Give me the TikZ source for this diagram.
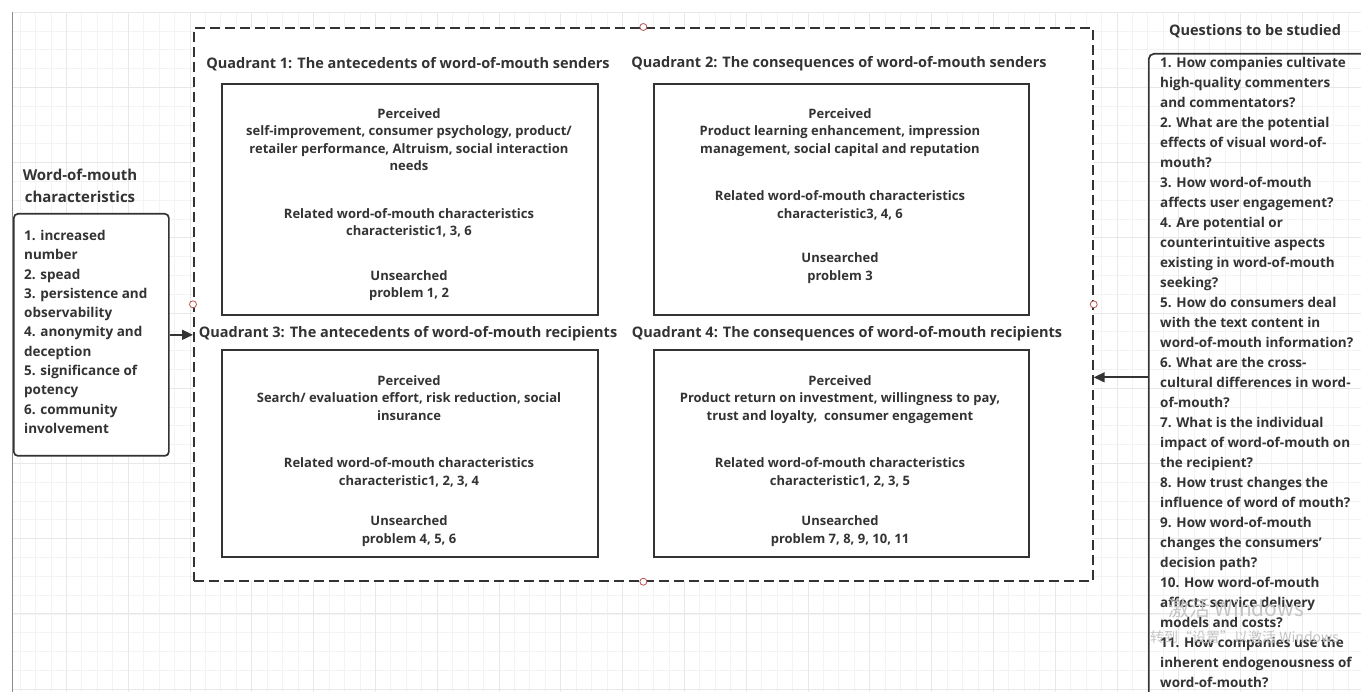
\documentclass[tikz,border=0pt]{standalone}
\usepackage{fontspec}
\setmainfont{Open Sans}
\newfontfamily\cjkf{Noto Sans CJK SC}
\usetikzlibrary{arrows.meta}
\definecolor{ink}{HTML}{333333}
\definecolor{gridminor}{HTML}{F3F3F3}
\definecolor{gridmajor}{HTML}{E8E8E8}
\definecolor{handle}{HTML}{B85450}
\definecolor{wmark}{HTML}{C4C4C4}
\tikzset{
  qbox/.style={draw=ink, line width=1.7pt, fill=white, inner sep=0pt, anchor=north west},
  frame/.style={draw=ink, line width=1.7pt, dash pattern=on 10pt off 5pt, fill=white, inner sep=0pt, anchor=north west},
  body/.style={font=\fontsize{13}{17.5}\selectfont\bfseries, text=ink, align=center, inner sep=0pt, anchor=north},
  qtitle/.style={font=\fontsize{14.5}{16}\selectfont\bfseries, text=ink, inner sep=0pt},
  sidetitle/.style={font=\fontsize{15}{22}\selectfont\bfseries, text=ink, align=center, inner sep=0pt},
  listtext/.style={text=ink, align=left, inner sep=0pt, anchor=north west},
  handle/.style={circle, draw=handle, fill=white, line width=0.8pt, minimum size=7pt, inner sep=0pt},
  arr/.style={draw=ink, line width=1.7pt, -{Triangle[length=11pt,width=10pt]}},
  wm/.style={text=wmark, inner sep=0pt, anchor=west}
}
\begin{document}
\begin{tikzpicture}[x=1pt,y=-1pt]
\useasboundingbox (0,0) rectangle (1361,692);
\clip (0,0) rectangle (1361,692);
% background grid
\foreach \i in {0,...,87} \draw[gridminor, line width=0.8pt] ({20+15.45*\i},12) -- ({20+15.45*\i},692);
\foreach \j in {1,...,36} \draw[gridminor, line width=0.8pt] (12,{12.3+18.8*\j}) -- (1361,{12.3+18.8*\j});
\foreach \i in {3,7,...,87} \draw[gridmajor, line width=0.9pt] ({20+15.45*\i},12) -- ({20+15.45*\i},692);
\foreach \j in {4,8,...,36} \draw[gridmajor, line width=0.9pt] (12,{12.3+18.8*\j}) -- (1361,{12.3+18.8*\j});
\draw[gridmajor, line width=0.8pt] (12,12.3) -- (1361,12.3);
\draw[black!45, line width=0.9pt] (12,12) -- (12,692);

% frame
\node[frame, minimum width=899pt, minimum height=553pt] (frame) at (193,27) {};

% quadrant titles
\node[qtitle] (t1) at (408,64) {Quadrant 1: The antecedents of word-of-mouth senders};
\node[qtitle] (t2) at (839,64) {Quadrant 2: The consequences of word-of-mouth senders};
\node[qtitle] (t3) at (408,334) {Quadrant 3: The antecedents of word-of-mouth recipients};
\node[qtitle] (t4) at (847,334) {Quadrant 4: The consequences of word-of-mouth recipients};

% quadrant boxes
\node[qbox, minimum width=376pt, minimum height=231pt] (q1) at (221,83) {};
\node[qbox, minimum width=375pt, minimum height=231pt] (q2) at (653,83) {};
\node[qbox, minimum width=376pt, minimum height=207pt] (q3) at (221,349) {};
\node[qbox, minimum width=375pt, minimum height=207pt] (q4) at (653,349) {};

\node[body] (b1) at (409,108) {Perceived\\
self-improvement, consumer psychology, product/\\
retailer performance, Altruism, social interaction\\
needs\\[30pt]
Related word-of-mouth characteristics\\
characteristic1, 3, 6\\[27pt]
Unsearched\\
problem 1, 2};

\node[body] (b2) at (840,108) {Perceived\\
Product learning enhancement, impression\\
management, social capital and reputation\\[30pt]
Related word-of-mouth characteristics\\
characteristic3, 4, 6\\[27pt]
Unsearched\\
problem 3};

\node[body] (b3) at (409,375) {Perceived\\
Search/ evaluation effort, risk reduction, social\\
insurance\\[30pt]
Related word-of-mouth characteristics\\
characteristic1, 2, 3, 4\\[23pt]
Unsearched\\
problem 4, 5, 6};

\node[body] (b4) at (840,375) {Perceived\\
Product return on investment, willingness to pay,\\
trust and loyalty,\ \ consumer engagement\\[30pt]
Related word-of-mouth characteristics\\
characteristic1, 2, 3, 5\\[23pt]
Unsearched\\
problem 7, 8, 9, 10, 11};

% left side
\node[sidetitle] (lt) at (80,186) {Word-of-mouth\\characteristics};
\node[draw=ink, line width=1.7pt, rounded corners=4pt, fill=white, inner sep=0pt,
      minimum width=155pt, minimum height=242pt, anchor=north west] (lbox) at (13,213) {};
\node[listtext, font=\fontsize{13.5}{19.3}\selectfont\bfseries] (ltext) at (24,230) {1. increased\\
number\\
2. spead\\
3. persistence and\\
observability\\
4. anonymity and\\
deception\\
5. significance of\\
potency\\
6. community\\
involvement};

% right side
\node[qtitle] (rt) at (1255,31) {Questions to be studied};
\node[draw=ink, line width=1.7pt, rounded corners=5pt, inner sep=0pt,
      minimum width=230pt, minimum height=647pt, anchor=north west] (rbox) at (1148,53) {};
\node[listtext, font=\fontsize{13.5}{20}\selectfont\bfseries] (rtext) at (1160,57) {1. How companies cultivate\\
high-quality commenters\\
and commentators?\\
2. What are the potential\\
effects of visual word-of-\\
mouth?\\
3. How word-of-mouth\\
affects user engagement?\\
4. Are potential or\\
counterintuitive aspects\\
existing in word-of-mouth\\
seeking?\\
5. How do consumers deal\\
with the text content in\\
word-of-mouth information?\\
6. What are the cross-\\
cultural differences in word-\\
of-mouth?\\
7. What is the individual\\
impact of word-of-mouth on\\
the recipient?\\
8. How trust changes the\\
influence of word of mouth?\\
9. How word-of-mouth\\
changes the consumers'\\
decision path?\\
10. How word-of-mouth\\
affects service delivery\\
models and costs?\\
11. How companies use the\\
inherent endogenousness of\\
word-of-mouth?};

% connectors
\draw[arr] (lbox.east) -- (lbox.east -| frame.west);
\draw[arr] (rbox.west) -- (rbox.west -| frame.east);

% handles
\node[handle] (hn) at (frame.north) {};
\node[handle] (hs) at (frame.south) {};
\node[handle] (hw) at (frame.west) {};
\node[handle] (he) at (frame.east) {};

% watermark
\node[wm, font=\cjkf\fontsize{21}{22}\selectfont] (wm1) at (1168,609) {激活 Windows};
\node[wm, font=\cjkf\fontsize{14}{16}\selectfont] (wm2) at (1150,637) {转到“设置”以激活 Windows};
\end{tikzpicture}
\end{document}
